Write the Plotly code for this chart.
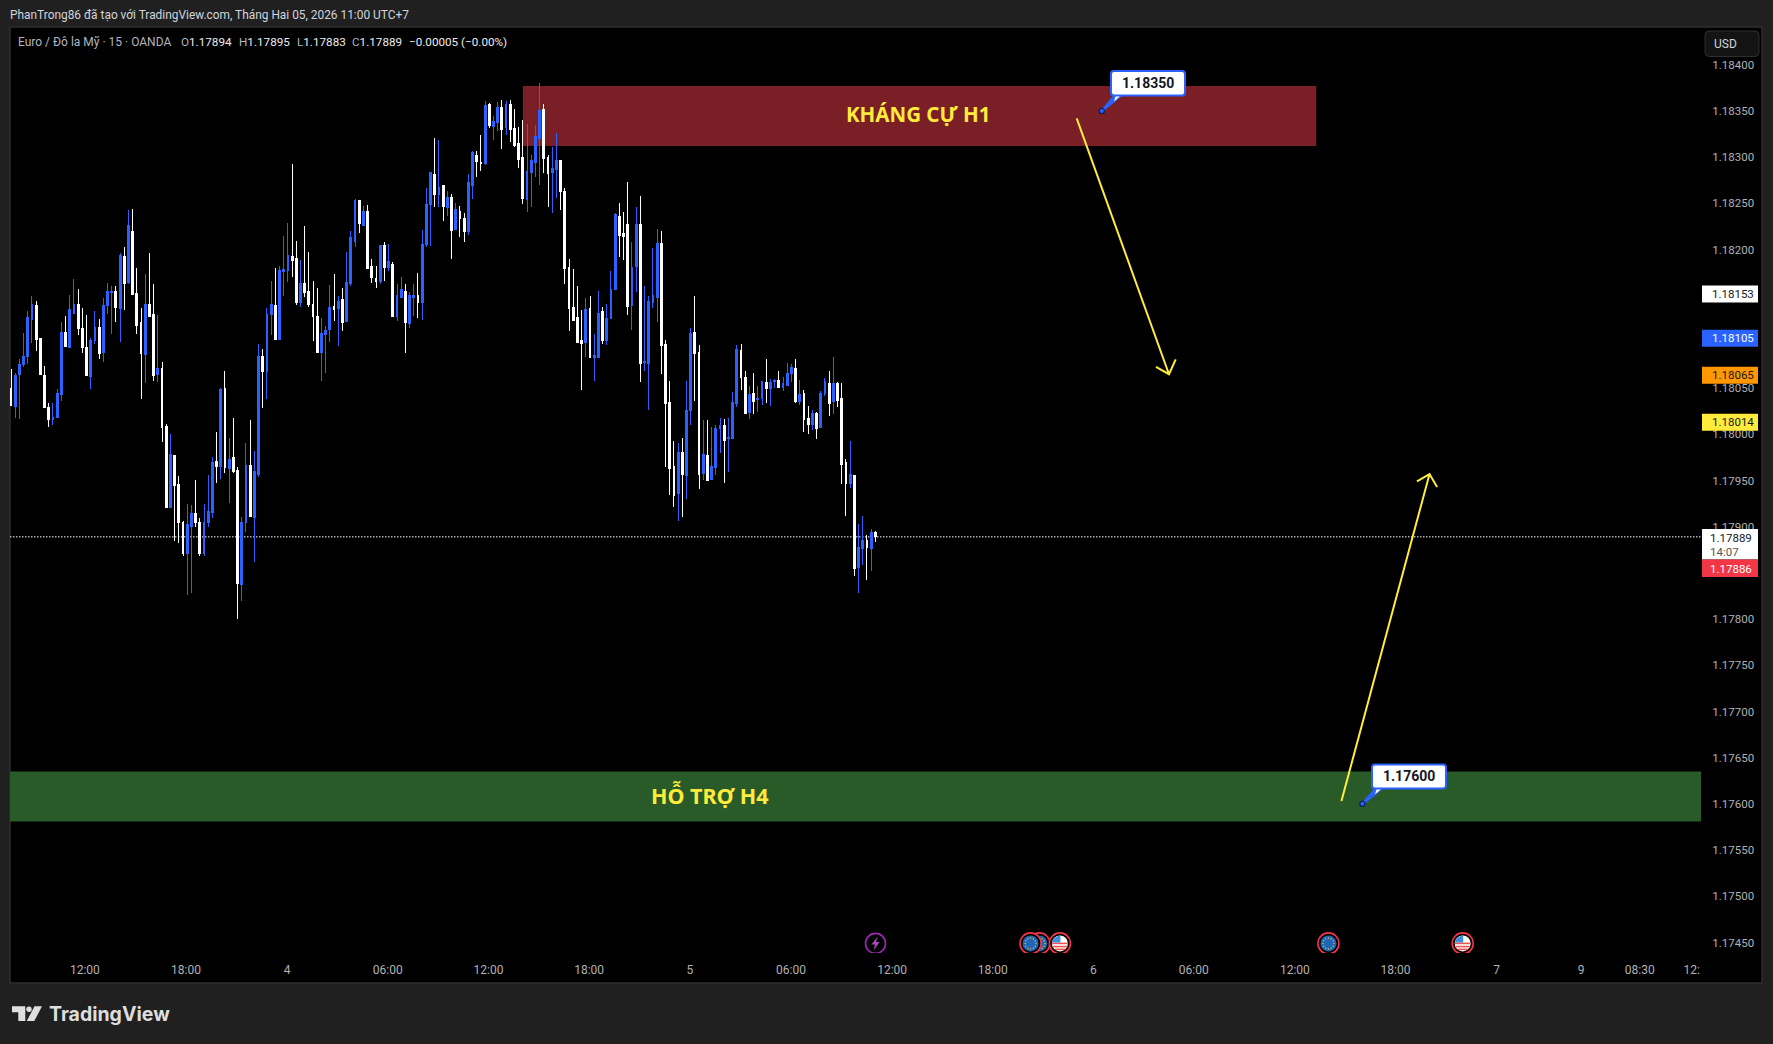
import math
import plotly.graph_objects as go

# EUR/USD 15-minute bars, prices in 1e-5 units (118050 = 1.18050)
opens = [
    118050,118030,118065,118076,118084,118124,118139,118104,118064,118029,
    118016,118018,118043,118110,118094,118131,118140,118114,118094,118063,
    118102,118116,118089,118139,118153,118154,118136,118192,118164,118220,
    118152,118121,118086,118140,118130,118065,118071,118008,117921,117977,
    117946,117904,117871,117900,117914,117904,117871,117904,117915,117971,
    117965,118050,117963,117975,117961,117837,117904,117966,117910,117957,
    118084,118068,118130,118139,118103,118176,118177,118192,118190,118143,
    118163,118154,118141,118128,118089,118108,118113,118138,118136,118146,
    118122,118163,118209,118253,118226,118241,118182,118169,118165,118204,
    118180,118184,118127,118148,118154,118120,118148,118150,118143,118205,
    118249,118281,118260,118269,118245,118256,118222,118241,118234,118219,
    118269,118302,118294,118293,118357,118333,118337,118354,118332,118357,
    118331,118315,118300,118254,118283,118294,118320,118351,118300,118283,
    118287,118296,118263,118180,118137,118126,118101,118099,118136,118083,
    118083,118133,118101,118125,118157,118236,118217,118227,118139,118182,
    118227,118078,118077,118143,118148,118206,118097,118034,117965,117936,
    117980,117955,118026,118110,118089,117958,117977,117951,117964,118006,
    118010,117995,117995,118033,118091,118062,118024,118044,118038,118039,
    118056,118050,118057,118058,118051,118053,118066,118071,118035,118044,
    118017,118011,118023,118007,118044,118055,118035,118055,118039,117970,
    117947,117955,117856,117876,117885,117876,117894,
]
closes = [
    118031,118064,118076,118084,118126,118140,118103,118065,118029,118016,
    118018,118044,118110,118095,118135,118140,118115,118094,118064,118102,
    118116,118087,118139,118154,118154,118137,118194,118163,118226,118151,
    118118,118087,118140,118128,118064,118071,118007,117921,117978,117945,
    117904,117871,117902,117914,117904,117871,117904,117916,117970,117965,
    118049,117964,117973,117960,117839,117904,117966,117911,117960,118084,
    118068,118130,118140,118103,118177,118178,118194,118188,118143,118163,
    118153,118141,118127,118089,118109,118112,118137,118135,118144,118121,
    118164,118213,118253,118228,118241,118179,118170,118165,118204,118181,
    118187,118127,118150,118157,118121,118150,118150,118143,118205,118249,
    118283,118259,118267,118247,118256,118221,118243,118234,118219,118272,
    118305,118295,118293,118356,118334,118339,118354,118330,118357,118330,
    118313,118297,118255,118284,118296,118322,118350,118299,118282,118288,
    118296,118263,118179,118136,118123,118099,118098,118135,118083,118085,
    118131,118102,118125,118157,118238,118215,118214,118138,118181,118227,
    118077,118079,118144,118150,118206,118096,118033,117963,117934,117980,
    117956,118026,118109,118087,117957,117978,117950,117965,118006,118009,
    117993,117996,118034,118092,118061,118023,118043,118036,118039,118057,
    118050,118056,118058,118051,118055,118066,118072,118035,118043,118016,
    118011,118022,118006,118044,118057,118033,118055,118037,117967,117947,
    117956,117855,117878,117885,117877,117894,117889,
]
highs = [
    118071,118066,118081,118110,118133,118150,118144,118104,118074,118034,
    118034,118049,118121,118128,118151,118168,118157,118137,118129,118104,
    118133,118125,118147,118164,118160,118160,118196,118203,118243,118244,
    118180,118137,118173,118196,118163,118129,118078,118011,118000,117978,
    117955,117906,117925,117924,117951,117909,117925,117956,117975,118003,
    118050,118069,117996,118018,117965,117911,117991,118015,117982,118098,
    118092,118137,118166,118180,118182,118215,118229,118293,118209,118189,
    118225,118197,118166,118158,118126,118117,118162,118173,118150,118158,
    118197,118220,118255,118254,118247,118248,118190,118182,118205,118208,
    118206,118187,118163,118170,118163,118154,118163,118175,118221,118267,
    118283,118321,118319,118269,118263,118260,118250,118247,118239,118282,
    118307,118307,118324,118361,118359,118345,118360,118362,118361,118362,
    118352,118333,118340,118336,118302,118335,118380,118357,118302,118311,
    118326,118296,118267,118190,118179,118161,118135,118147,118150,118109,
    118155,118138,118141,118177,118239,118250,118241,118273,118208,118246,
    118258,118160,118150,118202,118222,118220,118102,118058,117993,117991,
    117996,118058,118115,118150,118097,118015,118015,118008,118010,118018,
    118017,118018,118046,118097,118098,118068,118052,118066,118052,118057,
    118081,118060,118060,118068,118062,118077,118076,118081,118059,118048,
    118031,118026,118024,118047,118061,118069,118084,118057,118055,117973,
    117993,117956,117903,117912,117891,117897,117895,
]
lows = [
    118031,118018,118017,118073,118076,118099,118090,118065,118028,118008,
    118010,118018,118036,118094,118094,118130,118107,118088,118063,118049,
    118098,118082,118078,118130,118109,118121,118100,118135,118163,118151,
    118109,118038,118055,118128,118058,118057,117992,117921,117921,117885,
    117882,117868,117826,117828,117900,117868,117868,117900,117909,117947,
    117952,117958,117926,117958,117800,117820,117894,117911,117862,117954,
    118028,118038,118107,118103,118103,118150,118165,118170,118140,118138,
    118149,118138,118101,118089,118058,118066,118100,118123,118096,118112,
    118122,118160,118203,118218,118226,118179,118164,118158,118163,118166,
    118177,118127,118123,118148,118088,118115,118128,118126,118124,118203,
    118204,118246,118246,118231,118236,118190,118222,118214,118208,118216,
    118255,118279,118285,118291,118332,118318,118328,118309,118324,118316,
    118311,118288,118249,118241,118246,118279,118270,118283,118246,118239,
    118256,118243,118163,118112,118123,118099,118048,118084,118083,118058,
    118083,118098,118097,118125,118157,118192,118189,118129,118113,118154,
    118057,118069,118026,118137,118121,118065,117965,117934,117921,117906,
    117910,117930,118010,118036,117941,117951,117949,117951,117956,117980,
    117947,117959,117995,118030,118048,118023,118017,118022,118024,118032,
    118034,118031,118050,118051,118047,118052,118057,118034,118032,118003,
    118000,118005,117995,118007,118041,118020,118022,118029,117946,117912,
    117942,117847,117828,117859,117842,117852,117883,
]

# Time axis: positions in bar numbers from the first bar
tick_bars = [17.6, 41.7, 65.8, 89.8, 113.8, 137.8, 161.8, 185.9, 210.0,
             234.0, 258.0, 281.9, 306.0, 330.0, 354.1, 374.2, 388.2, 400.6]
tick_labels = ["12:00", "18:00", "4", "06:00", "12:00", "18:00", "5", "06:00", "12:00",
               "18:00", "6", "06:00", "12:00", "18:00", "7", "9", "08:30", "12:"]

# Price axis labels that stay visible next to the side tags
price_ticks = [1.18400, 1.18350, 1.18300, 1.18250, 1.18200, 1.18050, 1.18000, 1.17950, 1.17900,
               1.17800, 1.17750, 1.17700, 1.17650, 1.17600, 1.17550, 1.17500, 1.17450]

# Horizontal marks on the price scale
last_close = 1.17889
resistance_zone = (122.0, 311.1, 1.18377, 1.18312)
support_zone = (-0.3, 403.0, 1.17635, 1.17581)
resistance_note = (260.0, 1.18350, "1.18350")
support_note = (322.1, 1.17600, "1.17600")

# Forecast arrows as (bar, price) pairs: start, tip, barb, tip, barb
down_arrow_bars = [254.0, 276.0, 272.9, 276.0, 277.6]
down_arrow_prices = [1.18342, 1.18065, 1.18073, 1.18065, 1.18081]
up_arrow_bars = [317.1, 338.1, 335.1, 338.1, 339.9]
up_arrow_prices = [1.17603, 1.17957, 1.17949, 1.17957, 1.17943]

# Economic calendar events shown in a row along the bottom
event_price = 1.17449
event_bars = [206.05, 245.1, 243.0, 250.0, 314.0, 346.0]
event_kinds = ["bolt", "eu", "eu", "us", "eu", "us"]

# Side tags: value, fill, text colour
price_tags = [
    (1.18153, "#ffffff", "#131722"),
    (1.18105, "#2962ff", "#ffffff"),
    (1.18065, "#ff9800", "#131722"),
    (1.18014, "#ffeb3b", "#131722"),
]

W, H = 1773, 1044
L, R, T, B = 10, 1701, 27, 953
FONT = "Roboto"
YELLOW = "#ffeb3b"
BLUE = "#2962ff"
AXIS_GREY = "#b2b2b2"
BAR_PX = 4.196


def fx(px):
    return (px - L) / (R - L)


def fy(py):
    return (B - py) / (B - T)


def rounded_path(x0, y0, x1, y1, r):
    pts = [
        f"M{fx(x0 + r)},{fy(y0)}", f"L{fx(x1 - r)},{fy(y0)}", f"Q{fx(x1)},{fy(y0)} {fx(x1)},{fy(y0 + r)}",
        f"L{fx(x1)},{fy(y1 - r)}", f"Q{fx(x1)},{fy(y1)} {fx(x1 - r)},{fy(y1)}",
        f"L{fx(x0 + r)},{fy(y1)}", f"Q{fx(x0)},{fy(y1)} {fx(x0)},{fy(y1 - r)}",
        f"L{fx(x0)},{fy(y0 + r)}", f"Q{fx(x0)},{fy(y0)} {fx(x0 + r)},{fy(y0)}", "Z",
    ]
    return " ".join(pts)


def poly_path(points):
    head = "M" + " L".join(f"{fx(x)},{fy(y)}" for x, y in points)
    return head + " Z"


shapes = []
annotations = []


def paper_rect(x0, y0, x1, y1, fill, layer="above", line=None, lw=0):
    shapes.append(dict(type="rect", xref="paper", yref="paper", x0=fx(x0), x1=fx(x1), y0=fy(y1), y1=fy(y0),
                       fillcolor=fill, line=dict(color=line or fill, width=lw), layer=layer))


def paper_path(path, fill, line=None, lw=0, layer="above"):
    shapes.append(dict(type="path", xref="paper", yref="paper", path=path, fillcolor=fill,
                       line=dict(color=line or fill, width=lw), layer=layer))


def label(x, y, text, color, size=12, anchor="left", family=FONT):
    annotations.append(dict(xref="paper", yref="paper", x=fx(x), y=fy(y), text=text, showarrow=False,
                            xanchor=anchor, yanchor="middle", align=anchor,
                            font=dict(family=family, size=size, color=color), borderpad=0, borderwidth=0))


def icon_circle(bar, r, fill, line=None, lw=0, dx=0.0, dy=0.0):
    shapes.append(dict(type="circle", xref="x", yref="y", xsizemode="pixel", ysizemode="pixel",
                       xanchor=bar, yanchor=event_price, x0=dx - r, x1=dx + r, y0=dy - r, y1=dy + r,
                       fillcolor=fill, line=dict(color=line or fill, width=lw), layer="above"))


def icon_path(bar, path, fill, line=None, lw=0):
    shapes.append(dict(type="path", xref="x", yref="y", xsizemode="pixel", ysizemode="pixel",
                       xanchor=bar, yanchor=event_price, path=path, fillcolor=fill,
                       line=dict(color=line or fill, width=lw), layer="above"))


def draw_event(bar, kind):
    if kind == "bolt":
        icon_circle(bar, 10, "rgba(0,0,0,0)", "#9c27b0", 1.6)
        icon_path(bar, "M2,7 L-4,-1 L-0.5,-1 L-2,-7 L4,1.5 L0.5,1.5 Z", "#ab47bc")
        return
    icon_circle(bar, 10.5, "#000000", "#f23645", 1.6)
    if kind == "eu":
        icon_circle(bar, 8, "#1e66b8")
        for k in range(12):
            ang = k * math.pi / 6
            icon_circle(bar, 0.75, "#e0b93a", dx=5.5 * math.cos(ang), dy=5.5 * math.sin(ang))
    else:
        icon_circle(bar, 8, "#ffffff")
        for dy, thick in ((0.0, 1.6), (-3.2, 1.6), (-6.0, 1.6)):
            half = math.sqrt(max(7.8 ** 2 - dy ** 2, 0.1))
            icon_path(bar, f"M{-half},{dy + thick / 2} L{half},{dy + thick / 2} "
                           f"L{half},{dy - thick / 2} L{-half},{dy - thick / 2} Z", "#ef5350")
        icon_path(bar, "M-7.8,0.8 L0.5,0.8 L0.5,7.9 Q-6.4,7.4 -7.8,0.8 Z", "#3f8fe0")


# Right-hand axis panel and frame
paper_rect(10, 27, 1762, 983, "#000000", layer="below", line="#2e2e2e", lw=1.5)

# Support and resistance zones
for (x0, x1, y_top, y_bot), color in ((resistance_zone, "#7a1f26"), (support_zone, "#295b29")):
    shapes.append(dict(type="rect", xref="x", yref="y", x0=x0, x1=x1, y0=y_bot, y1=y_top,
                       fillcolor=color, line=dict(width=0), layer="below"))

# Dotted last-price line
shapes.append(dict(type="line", xref="paper", yref="y", x0=0, x1=1, y0=last_close, y1=last_close,
                   line=dict(color="#ffffff", width=1, dash="1.5px,1.5px"), layer="below"))

for bar, kind in zip(event_bars, event_kinds):
    draw_event(bar, kind)

# Side price tags
for value, fill, ink in price_tags:
    shapes.append(dict(type="rect", xref="paper", yref="y", ysizemode="pixel", yanchor=value, y0=-9.5, y1=7.5,
                       x0=fx(1702), x1=fx(1758), fillcolor=fill, line=dict(width=0), layer="above"))
    annotations.append(dict(xref="paper", yref="y", x=fx(1710.5), y=value, yshift=-1, text=f"{value:.5f}",
                            showarrow=False, xanchor="left", yanchor="middle",
                            font=dict(family=FONT, size=11.5, color=ink)))

# Countdown and bid tags stacked on the last price
paper_rect(1702, 529, 1758, 559.5, "#ffffff")
paper_rect(1702, 559.5, 1758, 577, "#f23645")
label(1710.5, 537.5, "1.17889", "#131722", size=11.5)
label(1710.5, 551.7, "14:07", "#555555", size=11.5)
label(1710.5, 568.5, "1.17886", "#ffffff", size=11.5)

# Currency button
paper_path(rounded_path(1705, 31, 1759, 56.5, 4), "#141414", "#2e2e2e", 1)
label(1714, 44.5, "USD", "#d1d4dc")

# Callouts with pointer tails and anchor dots
for (bar, price, text), box in ((resistance_note, (1111, 71, 1185, 95.5)),
                                (support_note, (1372, 764.5, 1446, 788.5))):
    x0, y0, x1, y1 = box
    ax = L + (bar + 0.238) * BAR_PX
    ay = 64.7 + (1.184 - price) * 1e5 / 1.0823
    paper_path(poly_path([(x0 + 3, y1 - 1), (x0 + 13, y1 - 1), (ax + 1, ay + 0.8), (ax - 0.8, ay - 0.8)]), BLUE)
    paper_path(poly_path([(x0 + 5, y1 - 1), (x0 + 11, y1 - 1), (x0 + 3, y1 + 6)]), "#ffffff")
    paper_path(rounded_path(x0, y0, x1, y1, 3), "#ffffff", BLUE, 2)
    label((x0 + x1) / 2, (y0 + y1) / 2 - 0.5, f"<b>{text}</b>", "#131722", size=14, anchor="center")
    shapes.append(dict(type="circle", xref="x", yref="y", xsizemode="pixel", ysizemode="pixel",
                       xanchor=bar, yanchor=price, x0=-2.6, x1=2.6, y0=-2.6, y1=2.6,
                       fillcolor=BLUE, line=dict(color="#0b1f5c", width=1.2), layer="above"))

# Zone captions
label(918, 114, "<b>KHÁNG CỰ H1</b>", YELLOW, size=20.5, anchor="center", family="Noto Sans")
label(710, 795, "<b>HỖ TRỢ H4</b>", YELLOW, size=21.5, anchor="center", family="Noto Sans")

# Header lines
label(9.5, 15, "PhanTrong86 đã tạo với TradingView.com, Tháng Hai 05, 2026 11:00 UTC+7", "#d1d4dc", size=11.9)
label(18, 41.5, "Euro / Đô la Mỹ · 15 · OANDA", "#b2b5be", size=12)
W_SPAN = '<span style="color:#ececec">'
for px, letter, value in ((181.4, "O", "1.17894"), (239.2, "H", "1.17895"),
                          (296.6, "L", "1.17883"), (351.7, "C", "1.17889")):
    label(px, 41.5, f"{letter}{W_SPAN}{value}</span>", "#b2b5be", size=11.7)
label(408.7, 41.5, "−0.00005 (−0.00%)", "#ececec", size=11.7)

# Brand mark in the footer
paper_path(poly_path([(12, 1006.3), (25.3, 1006.3), (25.3, 1021), (18.3, 1021), (18.3, 1012.3), (12, 1012.3)]),
           "#dedede")
shapes.append(dict(type="circle", xref="paper", yref="paper", x0=fx(26.3), x1=fx(31.7), y0=fy(1012), y1=fy(1006.5),
                   fillcolor="#dedede", line=dict(width=0), layer="above"))
paper_path(poly_path([(34.5, 1006.3), (42, 1006.3), (34.3, 1021), (26.8, 1021)]), "#dedede")
label(49, 1013.5, "<b>TradingView</b>", "#dedede", size=19.5, family="Inter")

bars = list(range(len(opens)))

fig = go.Figure()
fig.add_trace(go.Candlestick(
    x=bars,
    open=[v / 1e5 for v in opens],
    high=[v / 1e5 for v in highs],
    low=[v / 1e5 for v in lows],
    close=[v / 1e5 for v in closes],
    increasing=dict(line=dict(color=BLUE, width=1), fillcolor=BLUE),
    decreasing=dict(line=dict(color="#ffffff", width=1), fillcolor="#ffffff"),
    whiskerwidth=0,
    showlegend=False,
    hoverinfo="skip",
))
for xs, ys in ((down_arrow_bars, down_arrow_prices), (up_arrow_bars, up_arrow_prices)):
    fig.add_trace(go.Scatter(x=xs, y=ys, mode="lines", line=dict(color=YELLOW, width=2),
                             showlegend=False, hoverinfo="skip"))

fig.update_layout(
    width=W, height=H, autosize=False,
    margin=dict(l=L, r=W - R, t=T, b=H - B, pad=0),
    paper_bgcolor="#202020", plot_bgcolor="#000000",
    boxgap=0.38,
    shapes=shapes, annotations=annotations,
    font=dict(family=FONT),
    xaxis=dict(
        range=[-0.238, 402.8], rangeslider=dict(visible=False), showgrid=False, zeroline=False, showline=False,
        tickmode="array", tickvals=tick_bars, ticktext=tick_labels, ticks="outside", ticklen=6,
        tickcolor="rgba(0,0,0,0)", tickfont=dict(family=FONT, size=12, color=AXIS_GREY), tickangle=0,
    ),
    yaxis=dict(
        range=[1.174386, 1.184408], side="right", showgrid=False, zeroline=False, showline=False,
        tickmode="array", tickvals=price_ticks, ticktext=[f"{v:.5f}" for v in price_ticks],
        ticks="outside", ticklen=8, tickcolor="rgba(0,0,0,0)",
        tickfont=dict(family=FONT, size=11.5, color=AXIS_GREY),
    ),
)

# Keep candle edges on whole pixels
crisp_candles = (
    "document.querySelectorAll('.boxlayer path').forEach(function(p){p.style.shapeRendering='crispEdges';});"
)
fig.write_html("out.html", post_script=crisp_candles)
